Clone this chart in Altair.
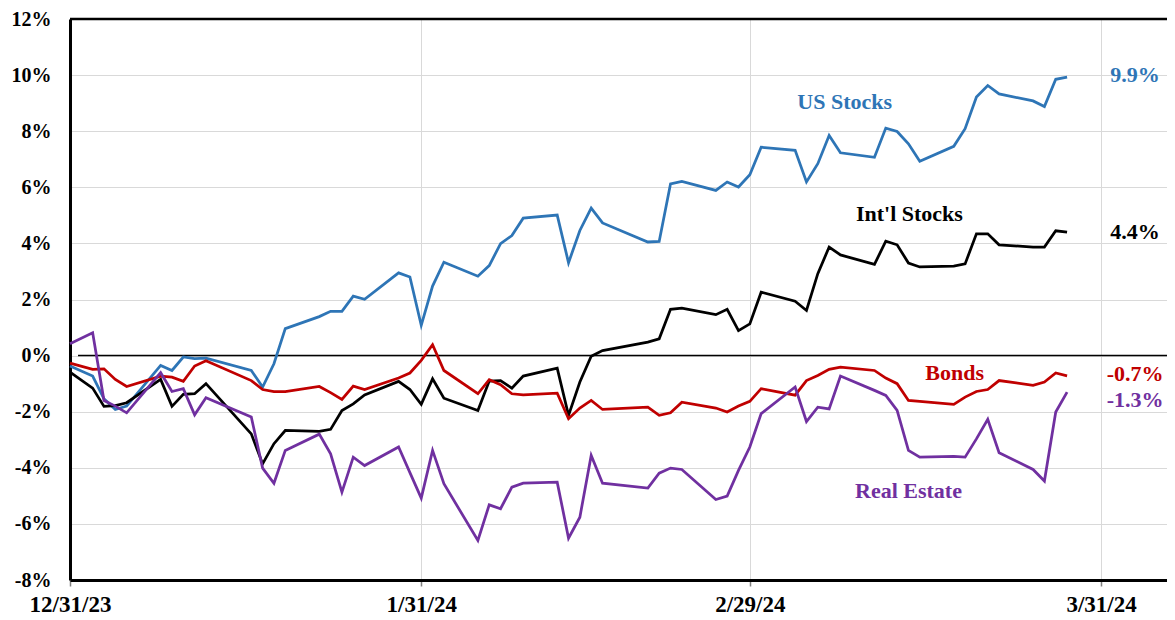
import altair as alt
import pandas as pd

# ---------------- data (cumulative return, %) ----------------
dates = [
    "2023-12-31",
    "2024-01-02", "2024-01-03", "2024-01-04", "2024-01-05", "2024-01-08", "2024-01-09",
    "2024-01-10", "2024-01-11", "2024-01-12", "2024-01-16", "2024-01-17", "2024-01-18",
    "2024-01-19", "2024-01-22", "2024-01-23", "2024-01-24", "2024-01-25", "2024-01-26",
    "2024-01-29", "2024-01-30", "2024-01-31",
    "2024-02-01", "2024-02-02", "2024-02-05", "2024-02-06", "2024-02-07", "2024-02-08",
    "2024-02-09", "2024-02-12", "2024-02-13", "2024-02-14", "2024-02-15", "2024-02-16",
    "2024-02-20", "2024-02-21", "2024-02-22", "2024-02-23", "2024-02-26", "2024-02-27",
    "2024-02-28", "2024-02-29",
    "2024-03-01", "2024-03-04", "2024-03-05", "2024-03-06", "2024-03-07", "2024-03-08",
    "2024-03-11", "2024-03-12", "2024-03-13", "2024-03-14", "2024-03-15", "2024-03-18",
    "2024-03-19", "2024-03-20", "2024-03-21", "2024-03-22", "2024-03-25", "2024-03-26",
    "2024-03-27", "2024-03-28",
]

us_stocks = [
    -0.37,
    -0.73, -1.54, -1.92, -1.80, -0.35, -0.53, -0.05, -0.11, -0.09, -0.53, -1.12, -0.29,
    0.96, 1.39, 1.58, 1.58, 2.12, 2.01, 2.95, 2.80, 1.08,
    2.48, 3.33, 2.83, 3.21, 3.99, 4.28, 4.90, 5.01, 3.31, 4.46, 5.26, 4.73,
    4.05, 4.07, 6.12, 6.21, 5.89, 6.19, 6.01, 6.45,
    7.43, 7.32, 6.19, 6.84, 7.85, 7.23, 7.07, 8.11, 7.99, 7.55, 6.93, 7.46,
    8.09, 9.22, 9.63, 9.33, 9.08, 8.88, 9.85, 9.93,
]

intl_stocks = [
    -0.59,
    -1.16, -1.81, -1.78, -1.68, -0.85, -1.81, -1.38, -1.36, -1.00, -2.79, -3.86, -3.14,
    -2.67, -2.70, -2.63, -1.96, -1.72, -1.40, -0.92, -1.21, -1.74,
    -0.83, -1.52, -1.96, -0.91, -0.89, -1.16, -0.73, -0.45, -2.13, -0.94, -0.02, 0.18,
    0.48, 0.60, 1.65, 1.69, 1.46, 1.65, 0.89, 1.13,
    2.26, 1.94, 1.61, 2.92, 3.87, 3.59, 3.25, 4.08, 3.95, 3.30, 3.16, 3.19,
    3.27, 4.34, 4.34, 3.95, 3.87, 3.87, 4.45, 4.40,
]

bonds = [
    -0.27,
    -0.49, -0.47, -0.85, -1.10, -0.73, -0.77, -0.92, -0.37, -0.18, -0.89, -1.21, -1.28,
    -1.28, -1.10, -1.32, -1.56, -1.09, -1.21, -0.80, -0.62, -0.17,
    0.39, -0.53, -1.36, -0.86, -1.04, -1.36, -1.40, -1.34, -2.25, -1.87, -1.60, -1.92,
    -1.84, -2.13, -2.04, -1.66, -1.87, -2.01, -1.80, -1.63,
    -1.18, -1.41, -0.89, -0.71, -0.49, -0.41, -0.53, -0.80, -1.00, -1.60, -1.63, -1.74,
    -1.48, -1.28, -1.21, -0.89, -1.06, -0.94, -0.62, -0.72,
]

real_estate = [
    0.42,
    0.81, -1.60, -1.80, -2.04, -0.61, -1.28, -1.18, -2.11, -1.50, -2.19, -4.01, -4.55,
    -3.38, -2.80, -3.50, -4.87, -3.62, -3.92, -3.26, -4.17, -5.08,
    -3.38, -4.57, -6.59, -5.32, -5.46, -4.69, -4.55, -4.51, -6.51, -5.76, -3.56, -4.55,
    -4.72, -4.19, -4.01, -4.06, -5.13, -5.01, -4.09, -3.26,
    -2.07, -1.12, -2.35, -1.84, -1.90, -0.73, -1.24, -1.42, -1.95, -3.38, -3.62, -3.59,
    -3.62, -2.97, -2.27, -3.46, -4.06, -4.47, -2.01, -1.30,
]

series_names = ["US Stocks", "Int'l Stocks", "Bonds", "Real Estate"]
series_values = [us_stocks, intl_stocks, bonds, real_estate]
series_colors = ["#2E75B6", "#000000", "#C00000", "#7030A0"]
end_labels = ["9.9%", "4.4%", "-0.7%", "-1.3%"]

tick_dates = ["2023-12-31", "2024-01-31", "2024-02-29", "2024-03-31"]
y_ticks = [-8, -6, -4, -2, 0, 2, 4, 6, 8, 10, 12]

# annotation anchors (date, value)
name_pos = [("2024-03-08T09:00:00Z", 9.04), ("2024-03-14T02:00:00Z", 5.04),
            ("2024-03-18T02:00:00Z", -0.62), ("2024-03-14T00:00:00Z", -4.83)]
end_pos = [("2024-04-03T00:00:00Z", 10.0), ("2024-04-03T00:00:00Z", 4.40),
           ("2024-04-03T00:00:00Z", -0.66), ("2024-04-03T00:00:00Z", -1.59)]

FONT = "Liberation Serif"


def dt(s):
    y, m, d = (int(p) for p in s.split("-"))
    return alt.DateTime(year=y, month=m, date=d, utc=True)


x_scale = alt.Scale(
    type="utc",
    domain=[dt("2023-12-31"),
            alt.DateTime(year=2024, month=4, date=5, hours=19, minutes=40, utc=True)],
)
y_scale = alt.Scale(domain=[-8, 12], nice=False, zero=False)

x_axis = alt.Axis(
    values=[dt(s) for s in tick_dates],
    labelExpr="utcFormat(datum.value, '%-m/%d/%y')",
    title=None, labelFont=FONT, labelFontSize=23, labelFontWeight="bold",
    labelColor="black", labelPadding=7, labelFlush=False, labelOverlap=False,
    tickColor="#7f7f7f", tickSize=6, tickWidth=1.5,
    domainColor="black", domainWidth=3,
    grid=True, gridColor="#D9D9D9", gridWidth=1,
)
y_axis = alt.Axis(
    values=y_ticks, labelExpr="datum.value + '%'", title=None,
    labelFont=FONT, labelFontSize=20, labelFontWeight="bold", labelColor="black",
    labelPadding=19, ticks=False, domainColor="black", domainWidth=3,
    grid=True, gridColor="#D9D9D9", gridWidth=1,
)


def xe(field):
    return alt.X(field, type="temporal", scale=x_scale, axis=x_axis)


def ye(field):
    return alt.Y(field, type="quantitative", scale=y_scale, axis=y_axis)


layers = []

# zero reference line and top border
zero_df = pd.DataFrame({"start": ["2023-12-31T17:00:00Z"],
                        "end": ["2024-04-05T19:40:00Z"], "v": [0]})
layers.append(alt.Chart(zero_df).mark_rule(color="black", strokeWidth=1.5).encode(
    x=xe("start"), x2="end", y=ye("v")))
top_df = pd.DataFrame({"start": ["2023-12-31T00:00:00Z"],
                       "end": ["2024-04-05T19:40:00Z"], "v": [12]})
layers.append(alt.Chart(top_df).mark_rule(color="black", strokeWidth=2.5).encode(
    x=xe("start"), x2="end", y=ye("v")))

for name, vals, col in zip(series_names, series_values, series_colors):
    df = pd.DataFrame({"date": dates, "value": vals})
    layers.append(alt.Chart(df).mark_line(color=col, strokeWidth=2.75).encode(
        x=xe("date"), y=ye("value")))

lab_df = pd.DataFrame({
    "date": [p[0] for p in name_pos] + [p[0] for p in end_pos],
    "value": [p[1] for p in name_pos] + [p[1] for p in end_pos],
    "label": series_names + end_labels,
    "color": series_colors + series_colors,
})
layers.append(alt.Chart(lab_df).mark_text(
    font=FONT, fontSize=22, fontWeight="bold", align="center", baseline="middle"
).encode(x=xe("date"), y=ye("value"), text="label:N",
         color=alt.Color("color:N", scale=None)))

chart = alt.layer(*layers).properties(
    width=1097, height=561,
    autosize=alt.AutoSizeParams(type="none"),
    padding={"left": 62, "top": 11, "right": 0, "bottom": 39},
    background="white",
).configure_view(stroke=None)

chart.save("out.html", embed_options={"renderer": "svg", "actions": False})
